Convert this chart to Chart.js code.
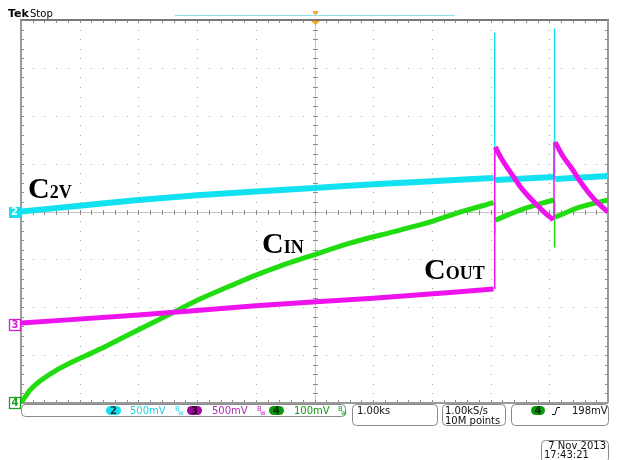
<!DOCTYPE html>
<html>
<head>
<meta charset="utf-8">
<title>Capacitor charging capture</title>
<script src="https://cdn.jsdelivr.net/npm/chart.js@4/dist/chart.umd.min.js"></script>
<style>
  html, body { margin: 0; padding: 0; background: #ffffff; }
  canvas { display: block; }
</style>
</head>
<body>
<canvas id="scope" width="623" height="460"></canvas>
<script>
// Channel settings: volts per division and ground-marker position (in divisions from the bottom)
const channelNames = ['2', '3', '4'];
const voltsPerDiv = [0.5, 0.5, 0.1];
const markerDiv = [4, 1.63, 0];
const channelColors = ['#12e2f0', '#ee12ee', '#22dc12'];

// Time base: 1.00 ks/div, 10 divisions
const timeMin = 0, timeMax = 10;

// CH2 (C2V) trace, time in ks, volts relative to marker
const ch2Time  = [0, 1, 2, 3, 4, 5, 6, 7, 8.05, 8.06, 8.08, 9.07, 9.08, 9.10, 10];
const ch2Volts = [0, 0.06, 0.12, 0.17, 0.21, 0.245, 0.285, 0.315, 0.35, null, 0.33, 0.36, null, 0.34, 0.37];
const ch2SpikeTime  = [8.07, 8.07, 8.075, 9.09, 9.09];
const ch2SpikeVolts = [0.33, 1.87, null, 0.35, 1.91];

// CH3 (COUT) trace
const ch3Time  = [0, 2, 4, 6, 8.05, 8.06, 8.08, 8.21, 8.36, 8.50, 8.64, 8.79, 8.93, 9.07, 9.08, 9.10, 9.23, 9.39, 9.52, 9.66, 9.81, 10];
const ch3Volts = [0.02, 0.105, 0.20, 0.28, 0.375, null, 1.858, 1.712, 1.576, 1.449, 1.347, 1.253, 1.169, 1.097, null, 1.910, 1.765, 1.629, 1.504, 1.389, 1.284, 1.179];
const ch3StepTime  = [8.07, 8.07, 8.075, 9.08, 9.08];
const ch3StepVolts = [0.375, 1.858, null, 1.097, 1.910];

// CH4 (CIN) trace
const ch4Time  = [0, 0.153, 0.324, 0.579, 0.835, 1.09, 1.346, 1.687, 2.198, 2.538, 3.049, 3.56, 4.003, 4.412, 4.974, 5.605, 6.457, 7.019, 7.479, 8.05, 8.06, 8.08, 8.55, 9.07, 9.08, 9.10, 9.52, 10];
const ch4Volts = [0, 0.0271, 0.0459, 0.0668, 0.0835, 0.0981, 0.1127, 0.1336, 0.1649, 0.1858, 0.2171, 0.2443, 0.2672, 0.286, 0.309, 0.334, 0.3612, 0.38, 0.3987, 0.4185, null, 0.382, 0.405, 0.424, null, 0.388, 0.409, 0.424];
const ch4StepTime  = [8.07, 8.07, 8.075, 9.09, 9.09];
const ch4StepVolts = [0.4185, 0.355, null, 0.424, 0.326];

// Readouts
const scaleReadouts = ['500mV', '500mV', '100mV'];
const timeReadout = '1.00ks';
const rateReadout = ['1.00kS/s', '10M points'];
const triggerReadout = '198mV';
const dateReadout = ['7 Nov 2013', '17:43:21'];

function toPoints(times, volts, ch) {
  return times.map((t, i) => ({
    x: t,
    y: volts[i] == null ? null : markerDiv[ch] + volts[i] / voltsPerDiv[ch]
  }));
}

const smooth = { cubicInterpolationMode: 'monotone', tension: 0.4 };
const straight = { tension: 0, cubicInterpolationMode: 'default' };

const datasets = [
  Object.assign({ data: toPoints(ch3Time, ch3Volts, 1), borderColor: channelColors[1], borderWidth: 5, order: 0 }, smooth),
  Object.assign({ data: toPoints(ch3StepTime, ch3StepVolts, 1), borderColor: channelColors[1], borderWidth: 1.5, order: 0 }, straight),
  Object.assign({ data: toPoints(ch4Time, ch4Volts, 2), borderColor: channelColors[2], borderWidth: 5, order: 1 }, smooth),
  Object.assign({ data: toPoints(ch4StepTime, ch4StepVolts, 2), borderColor: channelColors[2], borderWidth: 1.5, order: 1 }, straight),
  Object.assign({ data: toPoints(ch2Time, ch2Volts, 0), borderColor: channelColors[0], borderWidth: 6, order: 2 }, smooth),
  Object.assign({ data: toPoints(ch2SpikeTime, ch2SpikeVolts, 0), borderColor: channelColors[0], borderWidth: 1.5, order: 2 }, straight)
];

// Graticule: dotted major lines, centre crosshair with minor ticks, framed edges
const graticule = {
  id: 'graticule',
  beforeDatasetsDraw(chart) {
    const c = chart.ctx, xs = chart.scales.x, ys = chart.scales.y;
    const X = v => Math.round(xs.getPixelForValue(v));
    const Y = v => Math.round(ys.getPixelForValue(v));
    c.save();
    c.fillStyle = '#a6a6a6';
    for (let i = 1; i < 10; i++) {
      if (i === 5) continue;
      for (let j = 0; j <= 40; j++) c.fillRect(X(i), Y(j * 0.2), 1, 1);
    }
    for (let k = 1; k < 8; k++) {
      if (k === 4) continue;
      for (let j = 0; j <= 50; j++) c.fillRect(X(j * 0.2), Y(k), 1, 1);
    }
    // centre crosshair
    c.fillStyle = '#c4c4c4';
    c.fillRect(X(0), Y(4), X(10) - X(0), 1);
    c.fillRect(X(5), Y(8), 1, Y(0) - Y(8));
    c.fillStyle = '#8c8c8c';
    for (let j = 1; j < 50; j++) c.fillRect(X(j * 0.2), Y(4) - 2, 1, 5);
    for (let j = 1; j < 40; j++) c.fillRect(X(5) - 2, Y(j * 0.2), 5, 1);
    // edge ticks
    for (let j = 1; j < 50; j++) {
      c.fillRect(X(j * 0.2), Y(8), 1, 3);
      c.fillRect(X(j * 0.2), Y(0) - 3, 1, 3);
    }
    for (let j = 1; j < 40; j++) {
      c.fillRect(X(0), Y(j * 0.2), 3, 1);
      c.fillRect(X(10) - 3, Y(j * 0.2), 3, 1);
    }
    // frame
    c.fillStyle = '#7a7a7a';
    c.fillRect(X(0) - 1, Y(8) - 1, X(10) - X(0) + 2, 2);
    c.fillStyle = '#9a9a9a';
    c.fillRect(X(0) - 1, Y(8), 2, Y(0) - Y(8));
    c.fillRect(X(10) - 1, Y(8), 2, Y(0) - Y(8));
    c.fillRect(X(0), Y(0) - 1, X(10) - X(0), 2);
    c.restore();
  }
};

function roundBox(c, x, y, w, h, r, stroke) {
  c.beginPath();
  c.moveTo(x + r, y);
  c.arcTo(x + w, y, x + w, y + h, r);
  c.arcTo(x + w, y + h, x, y + h, r);
  c.arcTo(x, y + h, x, y, r);
  c.arcTo(x, y, x + w, y, r);
  c.closePath();
  c.strokeStyle = stroke;
  c.lineWidth = 1;
  c.stroke();
}

function pill(c, x, y, w, h, fill, label, textColor) {
  c.beginPath();
  const r = h / 2;
  c.moveTo(x + r, y);
  c.lineTo(x + w - r, y);
  c.arc(x + w - r, y + r, r, -Math.PI / 2, Math.PI / 2);
  c.lineTo(x + r, y + h);
  c.arc(x + r, y + r, r, Math.PI / 2, Math.PI * 1.5);
  c.closePath();
  c.fillStyle = fill;
  c.fill();
  c.fillStyle = textColor;
  c.font = 'bold 10px "DejaVu Sans"';
  c.textAlign = 'center';
  c.textBaseline = 'middle';
  c.fillText(label, x + w / 2, y + h / 2 + 0.5);
  c.textAlign = 'left';
  c.textBaseline = 'alphabetic';
}

function traceLabel(c, x, y, sub) {
  c.fillStyle = '#000000';
  c.font = 'bold 30px "Liberation Serif"';
  c.fillText('C', x, y);
  const w = c.measureText('C').width;
  c.font = 'bold 18px "Liberation Serif"';
  c.fillText(sub, x + w, y);
}

const annotations = {
  id: 'annotations',
  afterDraw(chart) {
    const c = chart.ctx, xs = chart.scales.x, ys = chart.scales.y;
    c.save();
    // header
    c.fillStyle = '#000';
    c.font = 'bold 11px "DejaVu Sans"';
    c.fillText('Tek', 8, 17);
    c.font = '10px "DejaVu Sans"';
    c.fillText('Stop', 30, 17);
    c.fillStyle = '#86e4ea';
    c.fillRect(175, 15, 280, 1);
    // trigger position markers
    const tx = Math.round(xs.getPixelForValue(5));
    c.fillStyle = '#f5a623';
    c.fillRect(tx - 2, 11, 5, 2);
    c.beginPath(); c.moveTo(tx - 2, 13); c.lineTo(tx + 3, 13); c.lineTo(tx + 0.5, 15); c.fill();
    c.beginPath(); c.moveTo(tx - 4, 21); c.lineTo(tx + 5, 21); c.lineTo(tx + 0.5, 25); c.closePath(); c.fill();

    // channel ground markers
    const my = markerDiv.map(d => Math.round(ys.getPixelForValue(d)));
    c.font = 'bold 10px "DejaVu Sans"';
    c.textAlign = 'center';
    c.textBaseline = 'middle';
    // ch2 filled
    c.fillStyle = channelColors[0];
    c.fillRect(9, my[0] - 5, 12, 11);
    c.fillStyle = '#ffffff';
    c.fillText(channelNames[0], 14.5, my[0] + 0.5);
    // ch3 and ch4 outlined
    [[1, '#d020d0'], [2, '#18a018']].forEach(([ch, col]) => {
      c.strokeStyle = col;
      c.lineWidth = 1.3;
      c.strokeRect(9.5, my[ch] - 5.5, 11, 11);
      c.fillStyle = col;
      c.fillText(channelNames[ch], 15, my[ch] + 0.5);
    });
    c.textAlign = 'left';
    c.textBaseline = 'alphabetic';

    // trace labels
    traceLabel(c, 28, 198, '2V');
    traceLabel(c, 262, 253, 'IN');
    traceLabel(c, 424, 279, 'OUT');

    // vertical readout bar
    roundBox(c, 21.5, 404.5, 324, 12, 4, '#8a8a8a');
    const pills = [[106, '#14dfee', '#08383c'], [187, '#9a0a9a', '#2a002a'], [269, '#0b9a0b', '#002a00']];
    const textCols = ['#1bd4e4', '#b02cb0', '#119a11'];
    const textX = [130, 212, 294];
    const bwX = [175, 257, 338];
    pills.forEach(([px, fill, tc], i) => {
      pill(c, px, 406, 15, 9, fill, channelNames[i], tc);
      c.fillStyle = textCols[i];
      c.font = '10px "DejaVu Sans"';
      c.fillText(scaleReadouts[i], textX[i], 414);
      c.font = '7px "DejaVu Sans"';
      c.fillText('B', bwX[i], 411);
      c.fillText('w', bwX[i] + 3, 415);
    });

    // horizontal / acquisition / trigger boxes
    roundBox(c, 352.5, 404.5, 85, 21, 4, '#8a8a8a');
    roundBox(c, 442.5, 404.5, 63, 21, 4, '#8a8a8a');
    roundBox(c, 511.5, 404.5, 97, 21, 4, '#8a8a8a');
    c.fillStyle = '#111';
    c.font = '10px "DejaVu Sans"';
    c.fillText(timeReadout, 357, 414);
    c.fillText(rateReadout[0], 445, 414);
    c.fillText(rateReadout[1], 445, 424);
    pill(c, 531, 406, 14, 9, '#0b9a0b', channelNames[2], '#002a00');
    c.strokeStyle = '#111';
    c.lineWidth = 1;
    c.beginPath();
    c.moveTo(552, 414.5); c.lineTo(555, 414.5); c.lineTo(557, 407.5); c.lineTo(560, 407.5);
    c.stroke();
    c.fillStyle = '#111';
    c.font = '10px "DejaVu Sans"';
    c.fillText(triggerReadout, 572, 414);

    // date box
    roundBox(c, 541.5, 440.5, 67, 22, 4, '#8a8a8a');
    c.textAlign = 'right';
    c.fillText(dateReadout[0], 606, 449);
    c.textAlign = 'left';
    c.fillText(dateReadout[1], 544, 458);
    c.restore();
  }
};

new Chart(document.getElementById('scope').getContext('2d'), {
  type: 'line',
  data: { datasets },
  options: {
    responsive: false,
    animation: false,
    events: [],
    spanGaps: false,
    layout: { padding: { left: 21, right: 15, top: 20, bottom: 57 } },
    scales: {
      x: { type: 'linear', min: timeMin, max: timeMax, display: false },
      y: { type: 'linear', min: 0, max: 8, display: false }
    },
    elements: {
      point: { radius: 0 },
      line: { borderCapStyle: 'butt', borderJoinStyle: 'round' }
    },
    plugins: { legend: { display: false }, tooltip: { enabled: false } }
  },
  plugins: [graticule, annotations]
});
</script>
</body>
</html>
